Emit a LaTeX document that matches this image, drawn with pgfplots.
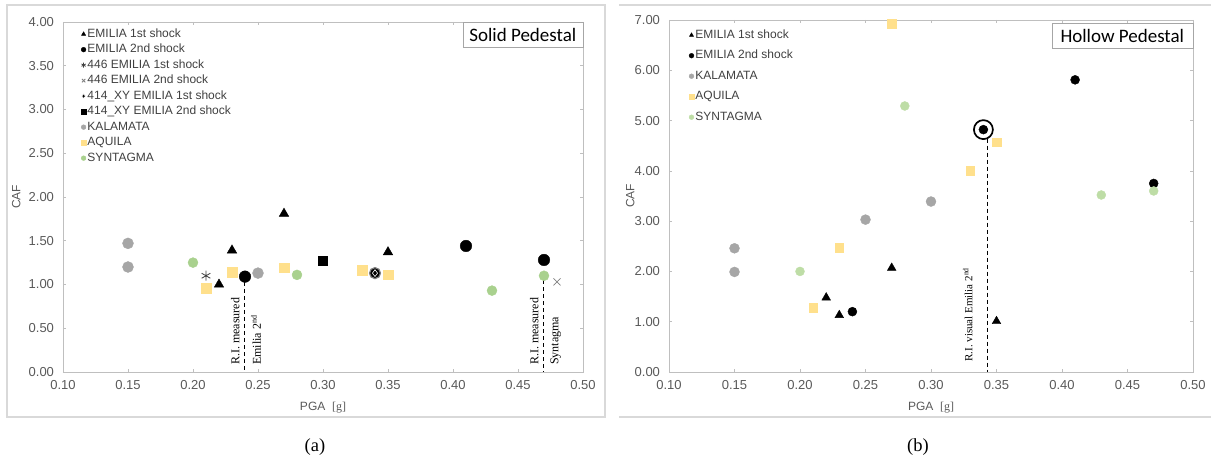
\documentclass[border=0pt]{standalone}
\usepackage{fontspec}
\setmainfont{Liberation Sans}
\newfontfamily\timesfont{Liberation Serif}
\newfontfamily\boxfont{Carlito}
\usepackage{pgfplots}
\pgfplotsset{compat=1.18}

\definecolor{kalamata}{HTML}{A6A6A6}
\definecolor{aquila}{HTML}{FFE08C}
\definecolor{syntagma}{HTML}{A9D18E}
\definecolor{syntagmaB}{HTML}{BEDDA6}
\definecolor{axisgray}{HTML}{BFBFBF}
\definecolor{framegray}{HTML}{D9D9D9}
\definecolor{labelgray}{HTML}{595959}
\definecolor{legendgray}{HTML}{404040}

\pgfplotsset{
  cafaxis/.style={
    scale only axis,
    clip=false,
    xmin=0.1, xmax=0.5, ymin=0,
    xtick={0.10,0.15,0.20,0.25,0.30,0.35,0.40,0.45,0.50},
    scaled ticks=false,
    axis line style={axisgray, line width=0.8pt},
    tick style={axisgray, line width=0.6pt},
    tick align=inside,
    major tick length=3pt,
    /pgf/number format/fixed,
    /pgf/number format/fixed zerofill,
    /pgf/number format/precision=2,
    /pgf/number format/assume math mode=true,
    ticklabel style={font=\fontsize{13}{15}\selectfont, text=labelgray},
    xticklabel style={yshift=-4.5pt},
    yticklabel style={xshift=-5.5pt},
    label style={font=\fontsize{12}{14}\selectfont, text=labelgray},
    xlabel={PGA\ \ {\timesfont [g]}},
    ylabel={CAF},
    legend cell align=left,
    legend image code/.code={\draw[mark repeat=2,mark phase=2,##1] plot coordinates {(0pt,0pt)(3pt,0pt)(6pt,0pt)};},
    legend image post style={mark size=2.4pt},
  },
}
\tikzset{
  rilabel/.style={rotate=90, anchor=west, inner sep=0pt, text=black},
  titlebox/.style={draw=kalamata, fill=white, anchor=north east, inner sep=2pt,
    font=\boxfont\fontsize{19}{22}\selectfont, text=black},
}

\begin{document}
\begin{tikzpicture}[x=1pt,y=1pt]
\useasboundingbox (0,0) rectangle (1211,465);

% panel frames
\draw[framegray, line width=1.5pt] (7,460) rectangle (605,48);
\draw[framegray, line width=1.5pt] (619,460) -- (1211,460);
\draw[framegray, line width=1.5pt] (619,48) -- (1211,48);

% captions
\node[font=\timesfont\fontsize{18.5}{20}\selectfont] at (315,18) {(a)};
\node[font=\timesfont\fontsize{18.5}{20}\selectfont] at (918,18) {(b)};

% ---------------- (a) solid pedestal ----------------
\begin{axis}[cafaxis,
  at={(63pt,93pt)}, anchor=south west,
  width=520pt, height=350pt,
  ymax=4,
  ytick={0,0.5,1,1.5,2,2.5,3,3.5,4},
  xlabel style={at={(axis description cs:0.5,-0.103)}, anchor=center},
  ylabel style={at={(axis description cs:-0.090,0.5)}, anchor=center},
  legend style={at={(axis description cs:0.0346,0.988)}, anchor=north west,
    draw=none, fill=none, inner sep=0pt, row sep=0pt,
    font=\fontsize{12}{13}\selectfont, text=legendgray,
    nodes={inner xsep=1.5pt, inner ysep=2.5pt, text height=8.3pt, text depth=2.2pt}},
]
\addplot[only marks, mark=triangle*, mark size=5.5pt, black]
  coordinates {(0.22,1.00) (0.23,1.39) (0.27,1.81) (0.35,1.37)};
\addlegendentry{EMILIA 1st shock}
\addplot[only marks, mark=*, mark size=5.8pt, black]
  coordinates {(0.24,1.09) (0.41,1.44) (0.47,1.28)};
\addlegendentry{EMILIA 2nd shock}
\addplot[only marks, mark=asterisk, mark size=5pt, color=legendgray, line width=0.8pt]
  coordinates {(0.21,1.10)};
\addlegendentry{446 EMILIA 1st shock}
\addplot[only marks, mark=x, mark size=5pt, color=gray, line width=0.8pt]
  coordinates {(0.48,1.03)};
\addlegendentry{446 EMILIA 2nd shock}
\addplot[forget plot, only marks, mark=*, mark size=5.5pt,
  mark options={fill=black, draw=gray, line width=1.2pt}]
  coordinates {(0.34,1.13)};
\addplot[only marks, mark=diamond*, mark size=3.4pt,
  mark options={fill=black, draw=white, line width=0.6pt}]
  coordinates {(0.34,1.13)};
\addlegendentry{414\_XY EMILIA 1st shock}
\addplot[only marks, mark=square*, mark size=4.6pt, black]
  coordinates {(0.30,1.27)};
\addlegendentry{414\_XY EMILIA 2nd shock}
\addplot[only marks, mark=*, mark size=5.5pt, kalamata]
  coordinates {(0.15,1.47) (0.15,1.20) (0.25,1.13)};
\addlegendentry{KALAMATA}
\addplot[only marks, mark=square*, mark size=4.8pt, aquila]
  coordinates {(0.21,0.96) (0.23,1.14) (0.27,1.19) (0.33,1.16) (0.35,1.11)};
\addlegendentry{AQUILA}
\addplot[only marks, mark=*, mark size=5pt, syntagma]
  coordinates {(0.20,1.25) (0.28,1.11) (0.43,0.93) (0.47,1.10)};
\addlegendentry{SYNTAGMA}

% reference lines
\addplot[forget plot, black, line width=1pt, dash pattern=on 4pt off 3pt]
  coordinates {(0.24,1.03) (0.24,0)};
\addplot[forget plot, black, line width=1pt, dash pattern=on 4pt off 3pt]
  coordinates {(0.47,1.05) (0.47,0)};
\node[rilabel, font=\timesfont\fontsize{12}{14}\selectfont] at (axis cs:0.2325,0.08) {R.I. measured};
\node[rilabel, font=\timesfont\fontsize{12}{14}\selectfont] at (axis cs:0.2485,0.08) {Emilia 2\textsuperscript{nd}};
\node[rilabel, font=\timesfont\fontsize{12}{14}\selectfont] at (axis cs:0.4625,0.08) {R.I. measured};
\node[rilabel, font=\timesfont\fontsize{12}{14}\selectfont] at (axis cs:0.4790,0.08) {Syntagma};

\node[titlebox, minimum width=120pt, minimum height=25pt] at (rel axis cs:1,1) {Solid Pedestal};
\end{axis}

% ---------------- (b) hollow pedestal ----------------
\begin{axis}[cafaxis,
  at={(669pt,93pt)}, anchor=south west,
  width=524pt, height=352pt,
  ymax=7,
  ytick={0,1,2,3,4,5,6,7},
  xlabel style={at={(axis description cs:0.5,-0.102)}, anchor=center},
  ylabel style={at={(axis description cs:-0.074,0.5)}, anchor=center},
  legend style={at={(axis description cs:0.038,0.9865)}, anchor=north west,
    draw=none, fill=none, inner sep=0pt, row sep=0pt,
    font=\fontsize{12}{13}\selectfont, text=legendgray,
    nodes={inner xsep=1.5pt, inner ysep=5pt, text height=8.3pt, text depth=2.2pt}},
]
\addplot[only marks, mark=triangle*, mark size=5pt, black]
  coordinates {(0.22,1.48) (0.23,1.13) (0.27,2.07) (0.35,1.01)};
\addlegendentry{EMILIA 1st shock}
\addplot[only marks, mark=*, mark size=4.5pt, black]
  coordinates {(0.24,1.20) (0.34,4.82) (0.41,5.81) (0.47,3.75)};
\addlegendentry{EMILIA 2nd shock}
\addplot[only marks, mark=*, mark size=5pt, kalamata]
  coordinates {(0.15,2.46) (0.15,1.99) (0.25,3.03) (0.30,3.39)};
\addlegendentry{KALAMATA}
\addplot[only marks, mark=square*, mark size=4.3pt, aquila]
  coordinates {(0.21,1.28) (0.23,2.47) (0.27,6.93) (0.33,4.00) (0.35,4.57)};
\addlegendentry{AQUILA}
\addplot[only marks, mark=*, mark size=4.5pt, syntagmaB]
  coordinates {(0.20,2.00) (0.28,5.29) (0.43,3.52) (0.47,3.60)};
\addlegendentry{SYNTAGMA}

% highlighted point and reference line
\addplot[forget plot, only marks, mark=o, mark size=9.5pt, black, line width=1.7pt]
  coordinates {(0.34,4.82)};
\addplot[forget plot, black, line width=1pt, dash pattern=on 4pt off 3pt]
  coordinates {(0.343,4.64) (0.343,0)};
\node[rilabel, font=\timesfont\fontsize{11}{13}\selectfont] at (axis cs:0.328,0.2) {R.I. visual Emilia 2\textsuperscript{nd}};

\node[titlebox, minimum width=141pt, minimum height=25pt, yshift=-3pt] at (rel axis cs:1,1) {Hollow Pedestal};
\end{axis}
\end{tikzpicture}
\end{document}
